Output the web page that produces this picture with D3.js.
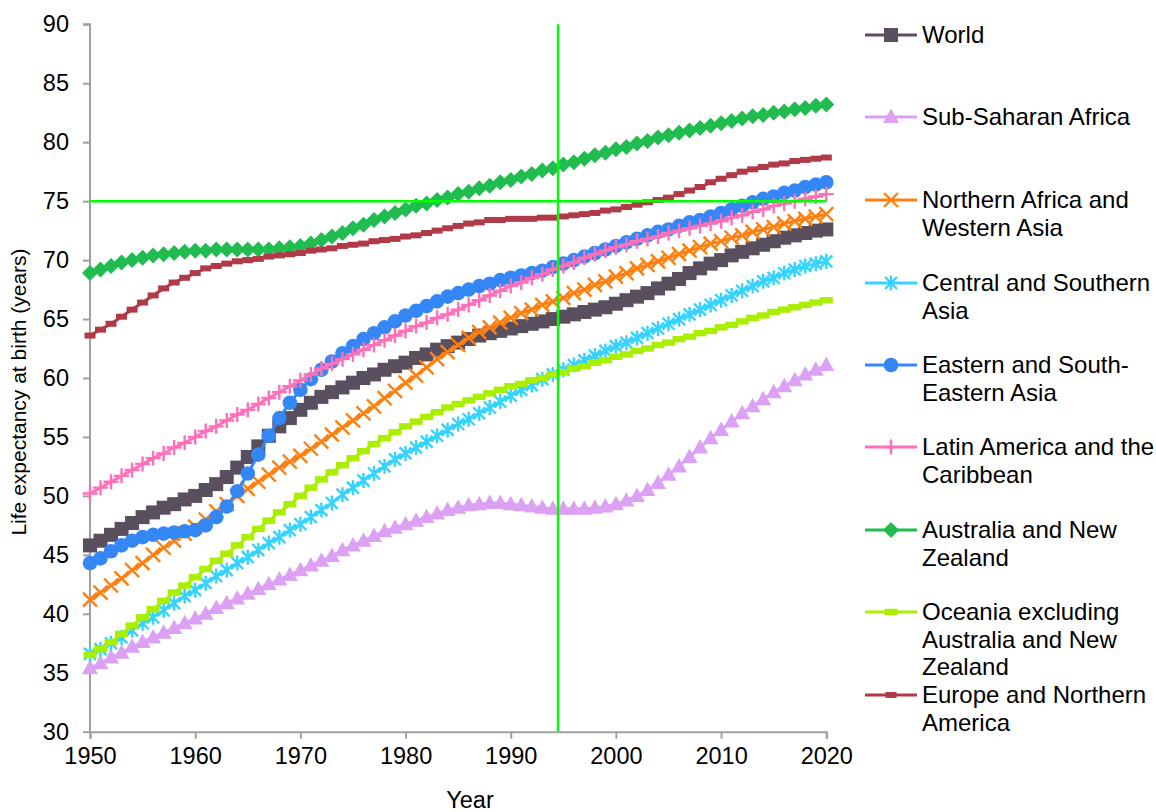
<!DOCTYPE html>
<html>
<head>
<meta charset="utf-8">
<script src="https://cdn.jsdelivr.net/npm/d3@7"></script>
<style>
  body { margin: 0; background: #fff; }
  text { font-family: "Liberation Sans", Arial, sans-serif; fill: #000; }
</style>
</head>
<body>
<div id="chart"></div>
<script>
// years 1950..2020, one point per year
const years = d3.range(1950, 2021);

const world = [45.8,46.2,46.7,47.2,47.7,48.2,48.6,49.0,49.3,49.7,50.0,50.5,51.0,51.6,52.4,53.3,54.2,55.1,55.9,56.6,
  57.3,57.9,58.4,58.8,59.2,59.6,60.0,60.3,60.7,61.0,61.3,61.7,62.0,62.4,62.7,63.0,63.3,63.6,63.8,64.0,
  64.2,64.4,64.6,64.8,65.0,65.2,65.4,65.6,65.8,66.0,66.3,66.6,66.9,67.2,67.6,68.0,68.4,68.9,69.3,69.7,
  70.0,70.4,70.7,71.0,71.3,71.6,71.9,72.1,72.3,72.5,72.6];
const subSaharan = [35.4,35.8,36.3,36.7,37.2,37.6,38.0,38.4,38.8,39.2,39.6,40.0,40.5,40.9,41.3,41.7,42.1,42.5,42.9,43.3,
  43.7,44.1,44.5,44.9,45.4,45.8,46.2,46.6,47.0,47.3,47.6,47.9,48.2,48.5,48.8,49.0,49.2,49.3,49.4,49.4,
  49.3,49.2,49.1,49.0,48.9,48.9,48.9,48.9,49.0,49.1,49.3,49.6,50.0,50.5,51.1,51.8,52.5,53.3,54.1,54.9,
  55.6,56.3,57.0,57.6,58.2,58.8,59.3,59.8,60.3,60.7,61.1];
const northAfricaWAsia = [41.2,41.8,42.4,43.0,43.7,44.3,45.0,45.6,46.2,46.8,47.4,48.0,48.7,49.3,50.0,50.6,51.2,51.8,52.4,52.9,
  53.4,54.0,54.6,55.2,55.8,56.4,57.0,57.6,58.3,58.9,59.6,60.2,60.9,61.6,62.2,62.8,63.4,63.9,64.3,64.7,
  65.1,65.5,65.8,66.2,66.5,66.8,67.2,67.5,67.9,68.2,68.6,68.9,69.3,69.6,69.9,70.2,70.5,70.8,71.1,71.4,
  71.6,71.9,72.1,72.4,72.6,72.8,73.1,73.3,73.5,73.7,73.9];
const centralSouthAsia = [36.6,37.0,37.5,38.0,38.6,39.2,39.7,40.3,40.9,41.5,42.0,42.6,43.2,43.7,44.3,44.8,45.4,46.0,46.5,47.1,
  47.6,48.2,48.8,49.4,50.1,50.7,51.3,51.9,52.5,53.1,53.6,54.1,54.6,55.1,55.6,56.1,56.5,57.0,57.5,58.0,
  58.5,59.0,59.4,59.9,60.3,60.7,61.1,61.5,61.9,62.3,62.7,63.0,63.4,63.8,64.2,64.6,65.0,65.4,65.8,66.2,
  66.6,67.0,67.4,67.8,68.2,68.5,68.9,69.2,69.5,69.7,69.9];
const eastSEAsia = [44.3,44.7,45.3,45.8,46.2,46.5,46.7,46.8,46.9,47.0,47.1,47.5,48.2,49.1,50.4,51.9,53.5,55.1,56.6,57.9,
  59.0,59.9,60.7,61.4,62.1,62.7,63.3,63.8,64.3,64.8,65.3,65.7,66.1,66.5,66.9,67.2,67.5,67.8,68.0,68.3,
  68.5,68.7,68.9,69.1,69.4,69.7,70.0,70.3,70.6,70.9,71.2,71.5,71.8,72.1,72.4,72.6,72.9,73.2,73.4,73.7,
  74.0,74.3,74.6,74.9,75.2,75.4,75.7,75.9,76.2,76.4,76.6];
const latinAmerica = [50.2,50.7,51.2,51.7,52.2,52.7,53.2,53.6,54.1,54.5,55.0,55.5,55.9,56.4,56.9,57.3,57.8,58.3,58.8,59.3,
  59.8,60.3,60.8,61.2,61.6,62.0,62.4,62.8,63.2,63.6,64.0,64.4,64.7,65.1,65.4,65.8,66.2,66.6,67.0,67.4,
  67.8,68.1,68.5,68.8,69.2,69.5,69.8,70.2,70.5,70.8,71.1,71.3,71.6,71.8,72.0,72.3,72.5,72.7,72.9,73.1,
  73.3,73.6,73.8,74.1,74.3,74.6,74.8,75.0,75.2,75.4,75.6];
const australiaNZ = [68.9,69.2,69.5,69.8,70.0,70.2,70.4,70.5,70.6,70.7,70.8,70.8,70.9,70.9,70.9,70.9,70.9,70.9,71.0,71.1,
  71.2,71.4,71.7,72.0,72.3,72.7,73.0,73.4,73.7,74.0,74.3,74.6,74.8,75.1,75.3,75.6,75.8,76.1,76.3,76.6,
  76.8,77.1,77.3,77.6,77.8,78.1,78.3,78.6,78.9,79.1,79.4,79.6,79.9,80.1,80.4,80.6,80.8,81.0,81.2,81.4,
  81.6,81.8,82.0,82.2,82.3,82.5,82.6,82.8,82.9,83.1,83.2];
const oceaniaExcl = [36.5,37.0,37.6,38.3,39.0,39.7,40.4,41.1,41.8,42.4,43.1,43.8,44.5,45.1,45.8,46.5,47.2,47.9,48.6,49.3,
  50.0,50.7,51.4,52.0,52.6,53.2,53.8,54.4,54.9,55.4,55.9,56.3,56.7,57.1,57.5,57.8,58.1,58.4,58.7,59.0,
  59.3,59.5,59.8,60.0,60.3,60.5,60.8,61.0,61.3,61.5,61.8,62.0,62.3,62.5,62.8,63.0,63.3,63.5,63.8,64.0,
  64.3,64.5,64.8,65.1,65.3,65.6,65.8,66.0,66.2,66.4,66.6];
const europeNAmerica = [63.6,64.1,64.6,65.2,65.8,66.4,67.0,67.6,68.1,68.5,68.9,69.3,69.5,69.7,69.9,70.0,70.1,70.3,70.4,70.5,
  70.6,70.8,70.9,71.0,71.2,71.3,71.4,71.6,71.7,71.8,72.0,72.1,72.3,72.5,72.7,72.9,73.1,73.2,73.4,73.4,
  73.5,73.5,73.5,73.6,73.6,73.7,73.8,73.9,74.0,74.2,74.3,74.5,74.7,74.9,75.1,75.3,75.6,75.9,76.2,76.6,
  76.9,77.2,77.5,77.7,77.9,78.1,78.2,78.4,78.5,78.6,78.7];

const seriesNames = [
  ["World"],
  ["Sub-Saharan Africa"],
  ["Northern Africa and", "Western Asia"],
  ["Central and Southern", "Asia"],
  ["Eastern and South-", "Eastern Asia"],
  ["Latin America and the", "Caribbean"],
  ["Australia and New", "Zealand"],
  ["Oceania excluding", "Australia and New", "Zealand"],
  ["Europe and Northern", "America"]
];
const seriesValues = [world, subSaharan, northAfricaWAsia, centralSouthAsia, eastSEAsia,
  latinAmerica, australiaNZ, oceaniaExcl, europeNAmerica];

const xTicks = [1950, 1960, 1970, 1980, 1990, 2000, 2010, 2020];
const yTicks = [30, 35, 40, 45, 50, 55, 60, 65, 70, 75, 80, 85, 90];
const refValue = 75;     // horizontal guide
const refYear = 1994.5;  // vertical guide

// styling per series
const colors = ["#594F5E", "#DCA0F5", "#FF8010", "#36D3FF", "#3487F5", "#FF70B8", "#21BC50", "#AAEE00", "#B03A48"];
const markerKind = ["square", "triangle", "x", "asterisk", "circle", "plus", "diamond", "dashL", "dashS"];

const width = 1156, height = 812;

const svg = d3.select("#chart").append("svg")
  .attr("width", width)
  .attr("height", height);

const x = d3.scaleLinear().domain([1950, 2020]).range([90, 826.3]);
const y = d3.scaleLinear().domain([30, 90]).range([731.7, 24.3]);

// axes
const axisColor = "#A0A0A0";
const gx = svg.append("g")
  .attr("transform", `translate(0,${y(30)})`)
  .call(d3.axisBottom(x).tickValues(xTicks).tickFormat(d3.format("d")).tickSize(7).tickPadding(9));
const gy = svg.append("g")
  .attr("transform", `translate(${x(1950)},0)`)
  .call(d3.axisLeft(y).tickValues(yTicks).tickSize(7).tickPadding(14));
[gx, gy].forEach(g => {
  g.selectAll("path, line").attr("stroke", axisColor).attr("stroke-width", 2);
  g.selectAll("text").style("font-size", "23.5px").attr("fill", "#000");
});
gy.select(".domain").attr("d", `M-7,${y(90)}H0V${y(30)}`);

svg.append("text")
  .attr("transform", `translate(26,392) rotate(-90)`)
  .attr("text-anchor", "middle")
  .style("font-size", "21px")
  .text("Life expectancy at birth (years)");
svg.append("text")
  .attr("x", 470).attr("y", 808)
  .attr("text-anchor", "middle")
  .style("font-size", "23.5px")
  .text("Year");

// marker drawing
function drawMarker(sel, kind, color) {
  if (kind === "square") {
    sel.append("rect").attr("x", -7).attr("y", -7).attr("width", 14).attr("height", 14).attr("fill", color);
  } else if (kind === "triangle") {
    sel.append("path").attr("d", "M0,-8.5L8,6L-8,6Z").attr("fill", color);
  } else if (kind === "circle") {
    sel.append("circle").attr("r", 7.3).attr("fill", color);
  } else if (kind === "diamond") {
    sel.append("path").attr("d", "M0,-8L8,0L0,8L-8,0Z").attr("fill", color);
  } else if (kind === "x") {
    sel.append("path").attr("d", "M-7,-7L7,7M-7,7L7,-7")
      .attr("stroke", color).attr("stroke-width", 2.4).attr("fill", "none");
  } else if (kind === "asterisk") {
    sel.append("path").attr("d", "M-6,-6L6,6M-6,6L6,-6M0,-7.5L0,7.5")
      .attr("stroke", color).attr("stroke-width", 2.4).attr("fill", "none");
  } else if (kind === "plus") {
    sel.append("path").attr("d", "M-7.5,0L7.5,0M0,-7.5L0,7.5")
      .attr("stroke", color).attr("stroke-width", 2.4).attr("fill", "none");
  } else if (kind === "dashL") {
    sel.append("rect").attr("x", -6.5).attr("y", -3.2).attr("width", 13).attr("height", 6.4).attr("fill", color);
  } else if (kind === "dashS") {
    sel.append("rect").attr("x", -5.5).attr("y", -3).attr("width", 11).attr("height", 6).attr("fill", color);
  }
}

const line = d3.line().x(d => x(d.year)).y(d => y(d.value));

seriesValues.forEach((vals, i) => {
  const pts = years.map((yr, k) => ({ year: yr, value: vals[k] }));
  const g = svg.append("g").attr("class", "series");
  g.append("path")
    .datum(pts)
    .attr("d", line)
    .attr("fill", "none")
    .attr("stroke", colors[i])
    .attr("stroke-width", 3);
  g.selectAll("g.pt")
    .data(pts)
    .enter()
    .append("g")
    .attr("class", "pt")
    .attr("transform", d => `translate(${x(d.year)},${y(d.value)})`)
    .each(function () { drawMarker(d3.select(this), markerKind[i], colors[i]); });
});

// green guide lines
svg.append("line")
  .attr("x1", x(1950)).attr("x2", x(2020))
  .attr("y1", y(refValue)).attr("y2", y(refValue))
  .attr("stroke", "#00FF00").attr("stroke-width", 2.5);
svg.append("line")
  .attr("x1", x(refYear)).attr("x2", x(refYear))
  .attr("y1", y(90)).attr("y2", y(30))
  .attr("stroke", "#00FF00").attr("stroke-width", 2.5);

// legend
const legendTop = [35, 117, 200, 283, 365, 447, 530, 612, 695];
const legend = svg.append("g");
seriesNames.forEach((lines, i) => {
  const g = legend.append("g").attr("transform", `translate(0,${legendTop[i]})`);
  g.append("line").attr("x1", 865).attr("x2", 917).attr("y1", 0).attr("y2", 0)
    .attr("stroke", colors[i]).attr("stroke-width", 3);
  const m = g.append("g").attr("transform", "translate(891,0)");
  drawMarker(m, markerKind[i], colors[i]);
  lines.forEach((t, j) => {
    g.append("text")
      .attr("x", 922)
      .attr("y", j * 27.5)
      .attr("dy", "0.35em")
      .style("font-size", "24px")
      .text(t);
  });
});
</script>
</body>
</html>
